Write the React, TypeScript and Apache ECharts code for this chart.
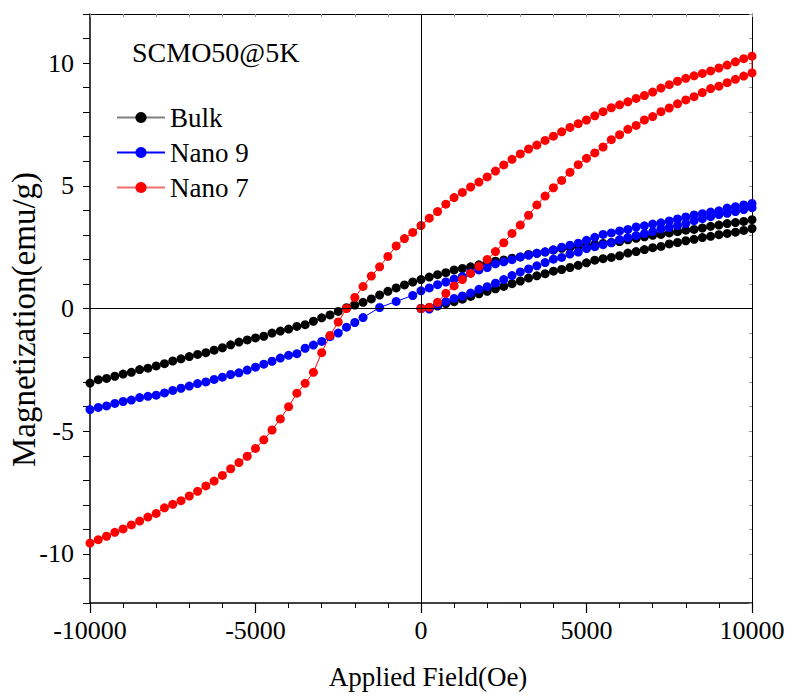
import React, { useEffect, useRef } from "react";
import * as echarts from "echarts";

const fieldVirgin = [0, 250, 500, 750, 1000, 1250, 1500, 1750, 2000, 2250, 2500, 2750, 3000, 3250, 3500, 3750, 4000, 4250, 4500, 4750, 5000, 5250, 5500, 5750, 6000, 6250, 6500, 6750, 7000, 7250, 7500, 7750, 8000, 8250, 8500, 8750, 9000, 9250, 9500, 9750, 10000];

const fieldDown = [10000, 9750, 9500, 9250, 9000, 8750, 8500, 8250, 8000, 7750, 7500, 7250, 7000, 6750, 6500, 6250, 6000, 5750, 5500, 5250, 5000, 4750, 4500, 4250, 4000, 3750, 3500, 3250, 3000, 2750, 2500, 2250, 2000, 1750, 1500, 1250, 1000, 750, 500, 250, 0, -250, -500, -750, -1000, -1250, -1500, -1750, -2000, -2250, -2500, -2750, -3000, -3250, -3500, -3750, -4000, -4250, -4500, -4750, -5000, -5250, -5500, -5750, -6000, -6250, -6500, -6750, -7000, -7250, -7500, -7750, -8000, -8250, -8500, -8750, -9000, -9250, -9500, -9750, -10000];

const fieldDownNano9 = [10000, 9750, 9500, 9250, 9000, 8750, 8500, 8250, 8000, 7750, 7500, 7250, 7000, 6750, 6500, 6250, 6000, 5750, 5500, 5250, 5000, 4750, 4500, 4250, 4000, 3750, 3500, 3250, 3000, 2750, 2500, 2250, 2000, 1750, 1500, 1250, 1000, 750, 500, 250, 0, -250, -750, -1250, -1750, -2000, -2250, -2500, -2750, -3000, -3250, -3500, -3750, -4000, -4250, -4500, -4750, -5000, -5250, -5500, -5750, -6000, -6250, -6500, -6750, -7000, -7250, -7500, -7750, -8000, -8250, -8500, -8750, -9000, -9250, -9500, -9750, -10000];

const bulkVirgin = [0, 0.04, 0.1, 0.2, 0.28, 0.38, 0.49, 0.6, 0.7, 0.8, 0.9, 1.01, 1.12, 1.24, 1.33, 1.42, 1.52, 1.59, 1.67, 1.76, 1.86, 1.97, 2.03, 2.08, 2.15, 2.26, 2.32, 2.4, 2.48, 2.53, 2.63, 2.69, 2.76, 2.82, 2.89, 2.94, 3.01, 3.06, 3.11, 3.18, 3.26];

const bulkDown = [3.62, 3.55, 3.5, 3.46, 3.4, 3.35, 3.28, 3.22, 3.19, 3.13, 3.08, 3.02, 2.98, 2.92, 2.86, 2.8, 2.73, 2.69, 2.65, 2.61, 2.58, 2.55, 2.5, 2.45, 2.38, 2.3, 2.25, 2.2, 2.1, 2.05, 1.98, 1.93, 1.87, 1.78, 1.7, 1.63, 1.57, 1.46, 1.38, 1.28, 1.18, 1.08, 0.96, 0.84, 0.7, 0.55, 0.39, 0.25, 0.14, 0.03, -0.12, -0.26, -0.38, -0.52, -0.66, -0.73, -0.84, -0.92, -1.0, -1.13, -1.2, -1.28, -1.37, -1.48, -1.6, -1.7, -1.8, -1.87, -1.96, -2.05, -2.14, -2.25, -2.34, -2.43, -2.49, -2.6, -2.67, -2.76, -2.85, -2.9, -3.04];

const nano9Virgin = [0, -0.02, 0.12, 0.28, 0.41, 0.51, 0.63, 0.78, 0.89, 1.03, 1.18, 1.34, 1.49, 1.61, 1.74, 1.87, 2.01, 2.08, 2.22, 2.3, 2.44, 2.52, 2.6, 2.68, 2.81, 2.89, 2.97, 3.05, 3.13, 3.25, 3.3, 3.38, 3.46, 3.58, 3.66, 3.74, 3.83, 3.88, 3.95, 4.03, 4.11];

const nano9Down = [4.28, 4.22, 4.15, 4.09, 3.98, 3.93, 3.86, 3.81, 3.73, 3.65, 3.57, 3.49, 3.44, 3.37, 3.32, 3.22, 3.16, 3.08, 3.02, 2.9, 2.78, 2.66, 2.58, 2.5, 2.39, 2.31, 2.25, 2.17, 2.1, 1.99, 1.9, 1.82, 1.67, 1.57, 1.46, 1.3, 1.2, 1.08, 0.97, 0.84, 0.72, 0.53, 0.29, 0.04, -0.37, -0.57, -0.76, -1.0, -1.15, -1.34, -1.49, -1.62, -1.84, -1.91, -2.02, -2.15, -2.27, -2.39, -2.51, -2.62, -2.69, -2.8, -2.89, -2.99, -3.06, -3.16, -3.25, -3.34, -3.44, -3.53, -3.58, -3.63, -3.73, -3.79, -3.87, -3.97, -4.03, -4.12];

const nano7Virgin = [0, 0.05, 0.25, 0.62, 0.92, 1.18, 1.43, 1.72, 2.0, 2.32, 2.68, 3.06, 3.4, 3.8, 4.22, 4.58, 4.92, 5.22, 5.55, 5.86, 6.12, 6.34, 6.58, 6.88, 7.08, 7.3, 7.46, 7.68, 7.82, 8.02, 8.17, 8.34, 8.5, 8.63, 8.8, 8.96, 9.06, 9.2, 9.34, 9.47, 9.6];

const nano7Down = [10.28, 10.18, 10.05, 9.92, 9.8, 9.68, 9.58, 9.48, 9.38, 9.26, 9.12, 8.98, 8.82, 8.68, 8.56, 8.42, 8.3, 8.18, 8.02, 7.85, 7.68, 7.53, 7.38, 7.2, 7.02, 6.85, 6.66, 6.5, 6.3, 6.08, 5.85, 5.6, 5.36, 5.15, 4.95, 4.73, 4.52, 4.25, 3.95, 3.68, 3.38, 3.1, 2.85, 2.55, 2.12, 1.7, 1.32, 0.9, 0.45, 0.0, -0.55, -1.1, -1.8, -2.6, -3.05, -3.45, -4.0, -4.5, -4.95, -5.35, -5.7, -6.02, -6.28, -6.53, -6.8, -7.03, -7.23, -7.45, -7.64, -7.83, -7.98, -8.12, -8.35, -8.5, -8.66, -8.82, -8.98, -9.12, -9.28, -9.42, -9.56];

const seriesNames = ["Bulk", "Nano 9", "Nano 7"];
const xTickLabels = ["-10000", "-5000", "0", "5000", "10000"];
const yTickLabels = ["-10", "-5", "0", "5", "10"];

const FONT = "Liberation Serif";

function pairs(xs: number[], ys: number[]) {
  return xs.map((x, i) => [x, ys[i]]);
}

export default function App() {
  const ref = useRef<HTMLDivElement>(null);
  useEffect(() => {
    if (!ref.current) return;
    const chart = echarts.init(ref.current, null, { renderer: "svg" });
    const bulk = pairs(fieldVirgin, bulkVirgin).concat(pairs(fieldDown, bulkDown));
    const nano9 = pairs(fieldVirgin, nano9Virgin).concat(pairs(fieldDownNano9, nano9Down));
    const nano7 = pairs(fieldVirgin, nano7Virgin).concat(pairs(fieldDown, nano7Down));
    const mk = (name: string, data: number[][], color: string, lineColor: string, extra: any = {}) => ({
      name,
      type: "line",
      data,
      symbol: "circle",
      symbolSize: 9,
      showSymbol: true,
      itemStyle: { color, borderWidth: 0 },
      lineStyle: { color: lineColor, width: 1 },
      emphasis: { disabled: true },
      ...extra,
    });
    chart.setOption({
      animation: false,
      backgroundColor: "#fff",
      textStyle: { fontFamily: FONT, color: "#000" },
      title: {
        text: "SCMO50@5K",
        left: 132,
        top: 38,
        padding: 0,
        textStyle: { fontFamily: FONT, fontSize: 28, fontWeight: "normal", color: "#000" },
      },
      legend: {
        orient: "vertical",
        left: 111,
        top: 99,
        itemWidth: 48,
        itemHeight: 14,
        itemGap: 8,
        data: [
          { name: seriesNames[0], lineStyle: { color: "#808080" } },
          { name: seriesNames[1], lineStyle: { color: "#0000ff" } },
          { name: seriesNames[2], lineStyle: { color: "#f07070" } },
        ],
        textStyle: { fontFamily: FONT, fontSize: 27, lineHeight: 27, fontWeight: "normal", color: "#000" },
      },
      grid: { left: 90, right: 40, top: 14, bottom: 94, containLabel: false, outerBoundsMode: "none" },
      xAxis: [
        {
          type: "value",
          min: -10000,
          max: 10000,
          interval: 5000,
          position: "bottom",
          name: "Applied Field(Oe)",
          nameLocation: "middle",
          nameGap: 60,
          nameMoveOverlap: false,
          nameTextStyle: { fontFamily: FONT, fontSize: 27, fontWeight: "normal", color: "#000", padding: [0, 0, 0, 14] },
          axisLine: { show: true, onZero: false, lineStyle: { color: "#000", width: 1.5 } },
          axisTick: { show: true, inside: false, length: 10, lineStyle: { color: "#000", width: 1.2 } },
          minorTick: { show: true, splitNumber: 5, length: 5, lineStyle: { color: "#000", width: 1 } },
          splitLine: { show: false },
          minorSplitLine: { show: false },
          axisLabel: {
            margin: 14,
            fontFamily: FONT,
            fontWeight: "normal",
            fontSize: 26,
            color: "#000",
            formatter: (v: number) => {
              const s = String(v);
              return xTickLabels.includes(s) ? s : "";
            },
          },
        },
        {
          type: "value",
          min: -10000,
          max: 10000,
          interval: 1000,
          position: "top",
          axisLine: { show: true, onZero: false, lineStyle: { color: "#000", width: 1 } },
          axisTick: { show: true, inside: true, length: 3, lineStyle: { color: "#999", width: 1 } },
          axisLabel: { show: false },
          splitLine: { show: false },
        },
      ],
      yAxis: [
        {
          type: "value",
          min: -12,
          max: 12,
          interval: 1,
          position: "left",
          name: "Magnetization(emu/g)",
          nameLocation: "middle",
          nameGap: 50,
          nameMoveOverlap: false,
          nameRotate: 90,
          nameTextStyle: { fontFamily: FONT, fontSize: 33, fontWeight: "normal", color: "#000", padding: [0, 22, 0, 0] },
          axisLine: { show: true, onZero: false, lineStyle: { color: "#000", width: 1.5 } },
          axisTick: { show: true, inside: false, length: 7, lineStyle: { color: "#000", width: 1 } },
          splitLine: { show: false },
          axisLabel: {
            margin: 16,
            interval: 0,
            fontFamily: FONT,
            fontWeight: "normal",
            fontSize: 26,
            color: "#000",
            formatter: (v: number) => {
              const s = String(v);
              return yTickLabels.includes(s) ? s : "";
            },
          },
        },
        {
          type: "value",
          min: -12,
          max: 12,
          interval: 1,
          position: "right",
          axisLine: { show: true, onZero: false, lineStyle: { color: "#000", width: 1 } },
          axisTick: { show: true, inside: true, length: 3, lineStyle: { color: "#999", width: 1 } },
          axisLabel: { show: false },
          splitLine: { show: false },
        },
      ],
      series: [
        mk(seriesNames[0], bulk, "#000000", "#333333", {
          markLine: {
            silent: true,
            symbol: ["none", "none"],
            label: { show: false },
            lineStyle: { color: "#000", width: 1, type: "solid" },
            emphasis: { disabled: true },
            data: [{ xAxis: 0 }, { yAxis: 0 }],
          },
        }),
        mk(seriesNames[1], nano9, "#0000ff", "#0000ff"),
        mk(seriesNames[2], nano7, "#ff0000", "#ff0000"),
      ],
    });
    return () => chart.dispose();
  }, []);
  return (
    <div
      ref={ref}
      style={{ position: "fixed", left: 0, top: 0, width: 792, height: 697, background: "#fff" }}
    />
  );
}
